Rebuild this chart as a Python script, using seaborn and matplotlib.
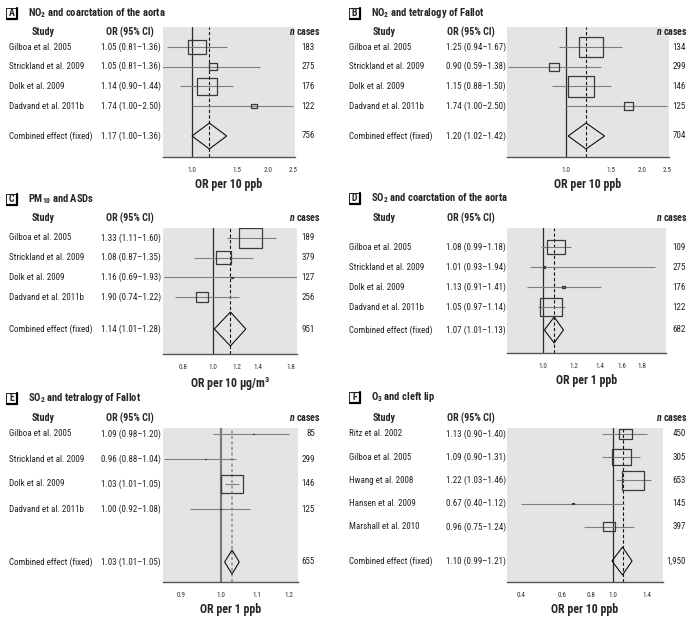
import numpy as np
import matplotlib
matplotlib.use("Agg")
import matplotlib.pyplot as plt
import matplotlib.transforms as mtransforms
from matplotlib import font_manager
from matplotlib.patches import Rectangle
from matplotlib.lines import Line2D
from matplotlib.ticker import NullLocator
import seaborn as sns

# ---- data ----
studies_4 = ["Gilboa et al. 2005", "Strickland et al. 2009", "Dolk et al. 2009", "Dadvand et al. 2011b"]
studies_f = ["Ritz et al. 2002", "Gilboa et al. 2005", "Hwang et al. 2008", "Hansen et al. 2009", "Marshall et al. 2010"]
combined_label = "Combined effect (fixed)"

# last entry of each list = combined (fixed) effect
or_text_a = ["1.05 (0.81–1.36)", "1.05 (0.81–1.36)", "1.14 (0.90–1.44)", "1.74 (1.00–2.50)", "1.17 (1.00–1.36)"]
est_a = [1.05, 1.21, 1.15, 1.76, 1.17]
lo_a = [0.80, 0.75, 0.90, 1.00, 1.00]
hi_a = [1.37, 1.86, 1.45, 2.50, 1.37]
weight_a = [39, 8, 49, 4]
n_a = ["183", "275", "176", "122", "756"]

or_text_b = ["1.25 (0.94–1.67)", "0.90 (0.59–1.38)", "1.15 (0.88–1.50)", "1.74 (1.00–2.50)", "1.20 (1.02–1.42)"]
est_b = [1.25, 0.90, 1.15, 1.76, 1.20]
lo_b = [0.94, 0.59, 0.88, 1.00, 1.02]
hi_b = [1.67, 1.38, 1.50, 2.50, 1.42]
weight_b = [40, 7, 47, 6]
n_b = ["134", "299", "146", "125", "704"]

or_text_c = ["1.33 (1.11–1.60)", "1.08 (0.87–1.35)", "1.16 (0.69–1.93)", "1.90 (0.74–1.22)", "1.14 (1.01–1.28)"]
est_c = [1.33, 1.08, 1.15, 0.92, 1.14]
lo_c = [1.11, 0.87, 0.69, 0.75, 1.01]
hi_c = [1.60, 1.35, 1.93, 1.22, 1.28]
weight_c = [59, 25, 0.5, 16]
n_c = ["189", "379", "127", "256", "951"]

or_text_d = ["1.08 (0.99–1.18)", "1.01 (0.93–1.94)", "1.13 (0.91–1.41)", "1.05 (0.97–1.14)", "1.07 (1.01–1.13)"]
est_d = [1.08, 1.01, 1.13, 1.05, 1.07]
lo_d = [0.99, 0.93, 0.91, 0.97, 1.01]
hi_d = [1.18, 1.94, 1.41, 1.14, 1.13]
weight_d = [39, 0.5, 1, 59]
n_d = ["109", "275", "176", "122", "682"]

or_text_e = ["1.09 (0.98–1.20)", "0.96 (0.88–1.04)", "1.03 (1.01–1.05)", "1.00 (0.92–1.08)", "1.03 (1.01–1.05)"]
est_e = [1.09, 0.96, 1.03, 1.00, 1.03]
lo_e = [0.98, 0.86, 1.01, 0.92, 1.01]
hi_e = [1.20, 1.04, 1.05, 1.08, 1.05]
weight_e = [0.2, 0.2, 99.4, 0.2]
n_e = ["85", "299", "146", "125", "655"]

or_text_f = ["1.13 (0.90–1.40)", "1.09 (0.90–1.31)", "1.22 (1.03–1.46)", "0.67 (0.40–1.12)", "0.96 (0.75–1.24)", "1.10 (0.99–1.21)"]
est_f = [1.13, 1.09, 1.22, 0.67, 0.96, 1.10]
lo_f = [0.90, 0.90, 1.03, 0.40, 0.75, 0.99]
hi_f = [1.40, 1.31, 1.46, 1.12, 1.24, 1.21]
weight_f = [15, 32, 42, 0.4, 11]
n_f = ["450", "305", "653", "145", "397", "1,950"]

ticks_a = [1.0, 1.5, 2.0, 2.5]
ticks_c = [0.8, 1.0, 1.2, 1.4, 1.8]
ticks_d = [1.0, 1.2, 1.4, 1.6, 1.8]
ticks_e = [0.9, 1.0, 1.1, 1.2]
ticks_f = [0.4, 0.6, 0.8, 1.0, 1.4]

panels = [
    dict(letter="A", title=r"NO$_2$ and coarctation of the aorta", studies=studies_4, txt=or_text_a,
         est=est_a, lo=lo_a, hi=hi_a, w=weight_a, n=n_a, ticks=ticks_a, xlabel="OR per 10 ppb"),
    dict(letter="B", title=r"NO$_2$ and tetralogy of Fallot", studies=studies_4, txt=or_text_b,
         est=est_b, lo=lo_b, hi=hi_b, w=weight_b, n=n_b, ticks=ticks_a, xlabel="OR per 10 ppb"),
    dict(letter="C", title=r"PM$_{10}$ and ASDs", studies=studies_4, txt=or_text_c,
         est=est_c, lo=lo_c, hi=hi_c, w=weight_c, n=n_c, ticks=ticks_c, xlabel=r"OR per 10 µg/m$^3$"),
    dict(letter="D", title=r"SO$_2$ and coarctation of the aorta", studies=studies_4, txt=or_text_d,
         est=est_d, lo=lo_d, hi=hi_d, w=weight_d, n=n_d, ticks=ticks_d, xlabel="OR per 1 ppb"),
    dict(letter="E", title=r"SO$_2$ and tetralogy of Fallot", studies=studies_4, txt=or_text_e,
         est=est_e, lo=lo_e, hi=hi_e, w=weight_e, n=n_e, ticks=ticks_e, xlabel="OR per 1 ppb"),
    dict(letter="F", title=r"O$_3$ and cleft lip", studies=studies_f, txt=or_text_f,
         est=est_f, lo=lo_f, hi=hi_f, w=weight_f, n=n_f, ticks=ticks_f, xlabel="OR per 10 ppb"),
]

# ---- layout (pixels in a 692x617 canvas) ----
# gray plot box, title y, header y, first row y, row step, combined y, largest box, diamond half height, xlim
layout = [
    dict(ox=0, gray=(163, 295, 27, 157), ty=13, hy=32, r0=47, step=19.7, cy=136, bmax=20, dh=13, xlim=(0.768, 2.55)),
    dict(ox=346, gray=(507, 669, 27, 157), ty=13, hy=32, r0=47, step=19.7, cy=136, bmax=26, dh=13, xlim=(0.585, 2.55)),
    dict(ox=0, gray=(163, 297, 228, 354), ty=199, hy=218, r0=238, step=19.7, cy=329, bmax=23, dh=17, xlim=(0.687, 1.88)),
    dict(ox=346, gray=(507, 666, 228, 353), ty=198, hy=218, r0=247, step=20, cy=330, bmax=22, dh=13, xlim=(0.81, 2.07)),
    dict(ox=0, gray=(163, 298, 428, 582), ty=398, hy=418, r0=434, step=25, cy=562, bmax=22, dh=12, xlim=(0.857, 1.228)),
    dict(ox=346, gray=(507, 663, 428, 582), ty=397, hy=418, r0=434, step=23.2, cy=561, bmax=22, dh=14, xlim=(0.346, 1.65)),
]

W, H = 692, 617

sns.set_theme(style="white")
names = {f.name for f in font_manager.fontManager.ttflist}
font = next((f for f in ["Liberation Sans Narrow", "Roboto Condensed", "Open Sans Condensed"] if f in names),
            "DejaVu Sans")
plt.rcParams["font.family"] = [font, "DejaVu Sans"]
plt.rcParams["mathtext.fontset"] = "custom"
plt.rcParams["mathtext.rm"] = font + ":bold"
plt.rcParams["mathtext.it"] = font + ":italic:bold"
plt.rcParams["mathtext.bf"] = font + ":bold"
plt.rcParams["mathtext.default"] = "bf"

fig = plt.figure(figsize=(W / 100, H / 100), dpi=100)
fig.patch.set_facecolor("white")


def fx(x):
    return x / W


def fy(y):
    return 1 - y / H


box_marker = [(-1.2, -1), (1.2, -1), (1.2, 1), (-1.2, 1), (-1.2, -1)]
fs_body = 6.5

for p, L in zip(panels, layout):
    ox = L["ox"]
    x0, x1, y0, y1 = L["gray"]
    ax = fig.add_axes([fx(x0), fy(y1), (x1 - x0) / W, (y1 - y0) / H])
    ax.set_facecolor("#e4e4e4")
    step, r0 = L["step"], L["r0"]
    k = len(p["studies"])
    rows = np.arange(k)
    comb = (L["cy"] - r0) / step
    ax.set_ylim((y1 - r0) / step, (y0 - r0) / step)
    ax.set_xscale("log")
    ax.set_xlim(*L["xlim"])

    e_panel = p["letter"] == "E"
    ax.axvline(1.0, color="#7a7a7a" if e_panel else "#2a2a2a", lw=1.6 if e_panel else 0.9, zorder=1)
    ax.axvline(p["est"][-1], color="#8a8a8a" if e_panel else "#111111", lw=1.1 if e_panel else 0.8,
               dashes=(2, 1.6) if e_panel else (3, 2), zorder=1)

    # confidence intervals
    ax.hlines(rows, p["lo"][:k], p["hi"][:k], color="#7f7f7f", lw=0.8, zorder=2)

    # study boxes sized by weight
    w = np.array(p["w"], dtype=float)
    width_px = L["bmax"] * np.sqrt(w / w.max())
    s = (width_px * 0.72) ** 2
    sns.scatterplot(x=p["est"][:k], y=rows, size=s, sizes=(s.min(), s.max()), size_norm=(s.min(), s.max()),
                    marker=box_marker, color="k", legend=False, ax=ax, zorder=3)
    coll = ax.collections[-1]
    coll.set_facecolor("none")
    coll.set_edgecolor("#3a3a3a")
    coll.set_linewidth(0.9)

    # combined diamond
    h = L["dh"] / step
    ax.fill([p["lo"][-1], p["est"][-1], p["hi"][-1], p["est"][-1]], [comb, comb - h, comb, comb + h],
            facecolor="none", edgecolor="#111111", lw=0.8, zorder=4)

    ax.set_xticks(p["ticks"])
    ax.set_xticklabels([f"{t:.1f}" for t in p["ticks"]], fontsize=5.2, color="#333333")
    ax.xaxis.set_minor_locator(NullLocator())
    ax.set_yticks([])
    ax.tick_params(axis="x", length=0, pad=7.5)
    ax.set_xlabel(p["xlabel"], fontsize=8.6, fontweight="bold", labelpad=2.5)
    sns.despine(ax=ax, left=True)
    ax.spines["bottom"].set_color("#555555")
    ax.spines["bottom"].set_linewidth(1.0)

    # text columns
    tr = mtransforms.blended_transform_factory(fig.transFigure, ax.transData)
    right = ox > 0
    name_x = ox + (3 if right else 9)
    or_x = ox + (100 if right else 101)
    n_x = ox + (340 if right else 315)
    hy = (L["hy"] - r0) / step
    ax.text(fx(ox + (38 if right else 43)), hy, "Study", transform=tr, ha="center", va="center",
            fontsize=7.2, fontweight="bold")
    ax.text(fx(ox + (125 if right else 130)), hy, "OR (95% CI)", transform=tr, ha="center", va="center",
            fontsize=7.2, fontweight="bold")
    ax.text(fx(ox + (342 if right else 321)), hy, r"$\it{n}$ cases", transform=tr, ha="right", va="center",
            fontsize=7.2, fontweight="bold")
    labels = list(p["studies"]) + [combined_label]
    ys = list(rows) + [comb]
    for lab, txt, nn, yy in zip(labels, p["txt"], p["n"], ys):
        ax.text(fx(name_x), yy, lab, transform=tr, ha="left", va="center", fontsize=fs_body, color="#222222")
        ax.text(fx(or_x), yy, txt, transform=tr, ha="left", va="center", fontsize=fs_body, color="#222222")
        ax.text(fx(n_x), yy, nn, transform=tr, ha="right", va="center", fontsize=fs_body, color="#222222")

    # panel letter box and title
    bx = ox + (6 if not right else 3)
    by = L["ty"] - 5.5
    fig.patches.append(Rectangle((fx(bx), fy(by + 11)), 11 / W, 11 / H, transform=fig.transFigure,
                                 facecolor="white", edgecolor="black", lw=0.6))
    fig.lines.append(Line2D([fx(bx + 11), fx(bx + 11), fx(bx + 0.5)], [fy(by + 0.5), fy(by + 11), fy(by + 11)],
                            transform=fig.transFigure, color="black", lw=1.6))
    fig.text(fx(bx + 5.5), fy(L["ty"]), p["letter"], ha="center", va="center", fontsize=7, fontweight="bold")
    fig.text(fx(ox + (28 if not right else 25)), fy(L["ty"]), p["title"], ha="left", va="center",
             fontsize=7.6, fontweight="bold")

fig.savefig("out.png", dpi=100)
